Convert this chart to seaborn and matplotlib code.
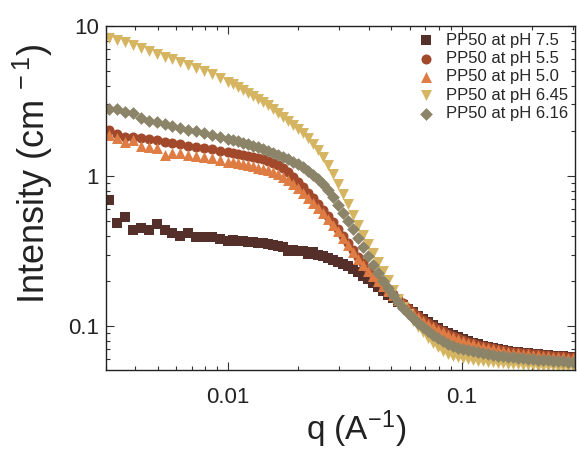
import numpy as np
import pandas as pd
import matplotlib
matplotlib.use("Agg")
import matplotlib.pyplot as plt
import seaborn as sns
from matplotlib.ticker import LogLocator, NullFormatter, FixedLocator, FixedFormatter

# q grid (A^-1), shared by all samples
q = [0.00310, 0.00335, 0.00362, 0.00392, 0.00423, 0.00458, 0.00495, 0.00535,
     0.00578, 0.00625, 0.00676, 0.00730, 0.00789, 0.00853, 0.00923, 0.00997,
     0.01050, 0.01104, 0.01160, 0.01218, 0.01280, 0.01345, 0.01413, 0.01484,
     0.01559, 0.01638, 0.01720, 0.01807, 0.01899, 0.01995, 0.02096, 0.02202,
     0.02313, 0.02430, 0.02553, 0.02682, 0.02818, 0.02960, 0.03110, 0.03267,
     0.03432, 0.03606, 0.03788, 0.03980, 0.04181, 0.04392, 0.04614, 0.04848,
     0.05093, 0.05351, 0.05621, 0.05906, 0.06204, 0.06518, 0.06848, 0.07194,
     0.07558, 0.07940, 0.08342, 0.08764, 0.09205, 0.09670, 0.1016, 0.1067,
     0.1121, 0.1178, 0.1238, 0.1300, 0.1366, 0.1435, 0.1508, 0.1584,
     0.1663, 0.1748, 0.1836, 0.1929, 0.2026, 0.2129, 0.2237, 0.2350,
     0.2468, 0.2593, 0.2724, 0.2862, 0.3007]

# intensities (cm^-1)
i_75 = [0.69, 0.49, 0.53, 0.44, 0.45, 0.44, 0.48, 0.44, 0.42, 0.40,
        0.42, 0.39, 0.39, 0.39, 0.38, 0.37,
        0.374, 0.369, 0.369, 0.363, 0.363, 0.357, 0.360, 0.352, 0.347, 0.341,
        0.336, 0.318, 0.321, 0.316, 0.316, 0.302, 0.312, 0.297, 0.293, 0.284,
        0.275, 0.267, 0.259, 0.251, 0.240, 0.229, 0.215, 0.206, 0.194, 0.182,
        0.171, 0.161, 0.154, 0.1445, 0.138, 0.130, 0.124, 0.117, 0.111, 0.106,
        0.1015, 0.0970, 0.0926, 0.0898, 0.0871, 0.0845, 0.0819, 0.0794, 0.0770, 0.0759,
        0.0736, 0.0724, 0.0714, 0.0703, 0.0692, 0.0681, 0.0671, 0.0671, 0.0661, 0.0661,
        0.0651, 0.0651, 0.0641, 0.0641, 0.0631, 0.0631, 0.0631, 0.0621, 0.0621]
i_55 = [2.02, 1.90, 1.82, 1.82, 1.79, 1.76, 1.74, 1.69, 1.66, 1.63,
        1.59, 1.56, 1.54, 1.51, 1.47, 1.45,
        1.42, 1.40, 1.38, 1.36, 1.34, 1.32, 1.30, 1.26, 1.22, 1.18,
        1.13, 1.06, 0.985, 0.912, 0.845, 0.770, 0.713, 0.651, 0.593, 0.541,
        0.494, 0.443, 0.398, 0.357, 0.321, 0.288, 0.263, 0.240, 0.219, 0.203,
        0.188, 0.174, 0.163, 0.151, 0.142, 0.132, 0.124, 0.117, 0.110, 0.1047,
        0.100, 0.0955, 0.0926, 0.0885, 0.0858, 0.0832, 0.0807, 0.0782, 0.0770, 0.0747,
        0.0736, 0.0724, 0.0714, 0.0703, 0.0692, 0.0681, 0.0671, 0.0671, 0.0661, 0.0661,
        0.0651, 0.0651, 0.0641, 0.0641, 0.0631, 0.0631, 0.0631, 0.0621, 0.0621]
i_50 = [1.88, 1.79, 1.69, 1.74, 1.59, 1.56, 1.54, 1.38, 1.42, 1.42,
        1.38, 1.36, 1.34, 1.32, 1.28, 1.25,
        1.24, 1.22, 1.20, 1.18, 1.17, 1.13, 1.11, 1.10, 1.06, 1.03,
        0.985, 0.940, 0.885, 0.832, 0.770, 0.713, 0.661, 0.612, 0.567, 0.517,
        0.471, 0.430, 0.386, 0.347, 0.311, 0.280, 0.255, 0.233, 0.215, 0.200,
        0.185, 0.171, 0.161, 0.149, 0.140, 0.130, 0.122, 0.115, 0.108, 0.103,
        0.0985, 0.0940, 0.0912, 0.0871, 0.0845, 0.0819, 0.0794, 0.0770, 0.0759, 0.0736,
        0.0724, 0.0714, 0.0703, 0.0692, 0.0681, 0.0671, 0.0661, 0.0661, 0.0651, 0.0651,
        0.0641, 0.0641, 0.0631, 0.0631, 0.0621, 0.0621, 0.0621, 0.0612, 0.0612]
i_645 = [8.3, 8.1, 7.8, 7.5, 7.1, 6.8, 6.5, 6.2, 6.0, 5.75,
         5.5, 5.25, 5.0, 4.8, 4.5, 4.25,
         4.11, 3.92, 3.74, 3.58, 3.42, 3.26, 3.11, 2.97, 2.80, 2.63,
         2.47, 2.33, 2.19, 2.06, 1.93, 1.79, 1.63, 1.49, 1.34, 1.18,
         1.03, 0.885, 0.759, 0.651, 0.550, 0.471, 0.404, 0.352, 0.307, 0.267,
         0.233, 0.203, 0.174, 0.151, 0.134, 0.120, 0.108, 0.0985, 0.0912, 0.0832,
         0.0770, 0.0724, 0.0681, 0.0651, 0.0631, 0.0621, 0.0612, 0.0603, 0.0593, 0.0584,
         0.0584, 0.0575, 0.0575, 0.0567, 0.0567, 0.0558, 0.0558, 0.0558, 0.0550, 0.0550,
         0.0550, 0.0541, 0.0541, 0.0541, 0.0541, 0.0533, 0.0533, 0.0533, 0.0533]
i_616 = [2.8, 2.8, 2.68, 2.62, 2.43, 2.32, 2.28, 2.22, 2.15, 2.09,
         2.03, 2.0, 1.94, 1.88, 1.82, 1.76,
         1.74, 1.71, 1.66, 1.63, 1.59, 1.56, 1.51, 1.47, 1.42, 1.38,
         1.34, 1.30, 1.24, 1.20, 1.15, 1.08, 1.015, 0.955, 0.885, 0.807,
         0.724, 0.641, 0.567, 0.501, 0.443, 0.386, 0.336, 0.293, 0.255, 0.226,
         0.200, 0.179, 0.161, 0.145, 0.132, 0.122, 0.113, 0.105, 0.0985, 0.0926,
         0.0871, 0.0832, 0.0794, 0.0759, 0.0736, 0.0714, 0.0703, 0.0692, 0.0681, 0.0671,
         0.0661, 0.0651, 0.0641, 0.0631, 0.0631, 0.0621, 0.0621, 0.0612, 0.0612, 0.0603,
         0.0603, 0.0593, 0.0593, 0.0593, 0.0584, 0.0584, 0.0584, 0.0575, 0.0575]

labels = ["PP50 at pH 7.5", "PP50 at pH 5.5", "PP50 at pH 5.0",
          "PP50 at pH 6.45", "PP50 at pH 6.16"]
series = [i_75, i_55, i_50, i_645, i_616]
colors = ["#55302a", "#a2492c", "#de7c44", "#d5b562", "#8b8468"]
markers = ["s", "o", "^", "v", "D"]
sizes = [44, 52, 62, 62, 42]

df = pd.concat([pd.DataFrame({"q": q, "I": s, "sample": lab})
                for lab, s in zip(labels, series)], ignore_index=True)

sns.set_style("ticks")
plt.rcParams["font.family"] = ["Liberation Sans", "DejaVu Sans"]
plt.rcParams["mathtext.fontset"] = "custom"
plt.rcParams["mathtext.rm"] = "Liberation Sans"
plt.rcParams["mathtext.default"] = "regular"

fig = plt.figure(figsize=(5.77, 4.49), dpi=100)
ax = fig.add_axes([0.1837, 0.1759, 0.8128, 0.7662])

for lab, col, mk, sz in zip(labels, colors, markers, sizes):
    sns.scatterplot(data=df[df["sample"] == lab], x="q", y="I", color=col,
                    marker=mk, s=sz, linewidth=0, ax=ax, label=lab)

ax.set_xscale("log")
ax.set_yscale("log")
ax.set_xlim(0.003, 0.306)
ax.set_ylim(0.051, 10)

ax.yaxis.set_major_locator(FixedLocator([0.1, 1, 10]))
ax.yaxis.set_major_formatter(FixedFormatter(["0.1", "1", "10"]))
ax.xaxis.set_major_locator(FixedLocator([0.01, 0.1]))
ax.xaxis.set_major_formatter(FixedFormatter(["0.01", "0.1"]))
ax.xaxis.set_minor_locator(LogLocator(base=10, subs=np.arange(2, 10)))
ax.yaxis.set_minor_locator(LogLocator(base=10, subs=np.arange(2, 10)))
ax.xaxis.set_minor_formatter(NullFormatter())
ax.yaxis.set_minor_formatter(NullFormatter())

ax.tick_params(which="both", direction="in", top=True, right=True,
               color="#333333", width=0.8)
ax.tick_params(which="major", length=6, labelsize=16, labelcolor="#222222")
ax.tick_params(axis="x", which="major", pad=12)
ax.tick_params(axis="y", which="major", pad=5)
ax.tick_params(which="minor", length=3)
for sp in ax.spines.values():
    sp.set_linewidth(1.0)
    sp.set_color("#222222")

ax.set_xlabel(r"q (A$^{-1}$)", fontsize=24, color="#222222")
ax.set_ylabel(r"Intensity (cm$^{\,-1}$)", fontsize=26, color="#222222")
ax.xaxis.set_label_coords(0.533, -0.112)
ax.yaxis.set_label_coords(-0.108, 0.57)

ax.legend(loc="upper right", frameon=False, fontsize=12, handletextpad=0.7,
          labelspacing=0.2, borderaxespad=0.1, markerscale=1.0,
          borderpad=0.3, handlelength=1.0)

fig.savefig("out.png", dpi=100)
